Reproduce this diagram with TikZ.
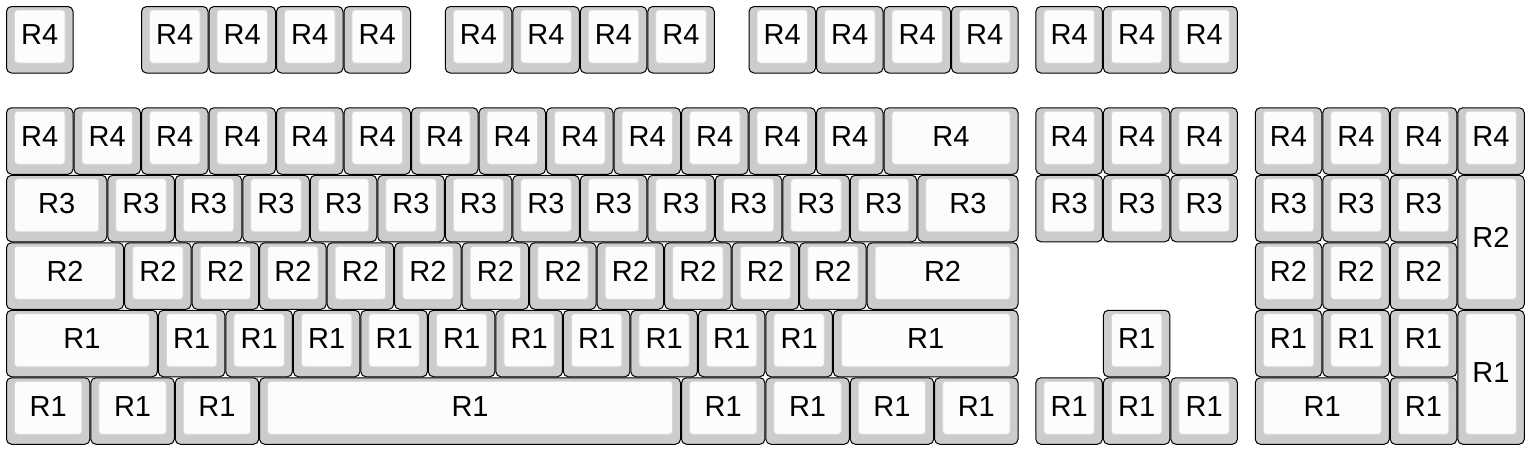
\documentclass[tikz,border=0pt]{standalone}
\usepackage{fontspec}
\setmainfont{Liberation Sans}
\definecolor{capgray}{HTML}{CCCCCC}
\definecolor{captop}{HTML}{FCFCFC}
\definecolor{capline}{HTML}{D6D6D6}
\tikzset{
  keyouter/.style={draw=black, line width=1pt, fill=capgray, rounded corners=5pt},
  keyinner/.style={draw=capline, line width=0.9pt, fill=captop, rounded corners=3pt},
  keylabel/.style={inner sep=0pt, anchor=base, font=\fontsize{29}{32}\selectfont, text=black}
}
\newcommand\kbkey[5]{%
  \pgfmathsetmacro\kxa{6+#1*67.5+0.5}%
  \pgfmathsetmacro\kya{6+#2*67.5+0.5}%
  \pgfmathsetmacro\kxb{6+(#1+#3)*67.5-0.5}%
  \pgfmathsetmacro\kyb{6+(#2+#4)*67.5-0.5}%
  \pgfmathsetmacro\kcx{(\kxa+\kxb)/2}%
  \pgfmathsetmacro\kcy{(\kya+\kyb)/2-5+10.2}%
  \draw[keyouter] (\kxa,\kya) rectangle (\kxb,\kyb);
  \draw[keyinner] (\kxa+8,\kya+3.5) rectangle (\kxb-8,\kyb-10);
  \node[keylabel] at (\kcx,\kcy) {#5};
}
\begin{document}
\begin{tikzpicture}[x=1pt,y=-1pt]
\useasboundingbox (0,0) rectangle (1532,451);
% Function row
\kbkey{0}{0}{1}{1}{R4}
\foreach \i in {2,3,4,5} {\kbkey{\i}{0}{1}{1}{R4}}
\foreach \i in {6.5,7.5,8.5,9.5} {\kbkey{\i}{0}{1}{1}{R4}}
\foreach \i in {11,12,13,14} {\kbkey{\i}{0}{1}{1}{R4}}
\foreach \i in {15.25,16.25,17.25} {\kbkey{\i}{0}{1}{1}{R4}}
% Number row
\foreach \i in {0,...,12} {\kbkey{\i}{1.5}{1}{1}{R4}}
\kbkey{13}{1.5}{2}{1}{R4}
\foreach \i in {15.25,16.25,17.25} {\kbkey{\i}{1.5}{1}{1}{R4}}
\foreach \i in {18.5,19.5,20.5,21.5} {\kbkey{\i}{1.5}{1}{1}{R4}}
% QWERTY row
\kbkey{0}{2.5}{1.5}{1}{R3}
\foreach \i in {1.5,2.5,...,12.5} {\kbkey{\i}{2.5}{1}{1}{R3}}
\kbkey{13.5}{2.5}{1.5}{1}{R3}
\foreach \i in {15.25,16.25,17.25} {\kbkey{\i}{2.5}{1}{1}{R3}}
\foreach \i in {18.5,19.5,20.5} {\kbkey{\i}{2.5}{1}{1}{R3}}
\kbkey{21.5}{2.5}{1}{2}{R2}
% Home row
\kbkey{0}{3.5}{1.75}{1}{R2}
\foreach \i in {1.75,2.75,...,11.75} {\kbkey{\i}{3.5}{1}{1}{R2}}
\kbkey{12.75}{3.5}{2.25}{1}{R2}
\foreach \i in {18.5,19.5,20.5} {\kbkey{\i}{3.5}{1}{1}{R2}}
% Shift row
\kbkey{0}{4.5}{2.25}{1}{R1}
\foreach \i in {2.25,3.25,...,11.25} {\kbkey{\i}{4.5}{1}{1}{R1}}
\kbkey{12.25}{4.5}{2.75}{1}{R1}
\kbkey{16.25}{4.5}{1}{1}{R1}
\foreach \i in {18.5,19.5,20.5} {\kbkey{\i}{4.5}{1}{1}{R1}}
\kbkey{21.5}{4.5}{1}{2}{R1}
% Bottom row
\kbkey{0}{5.5}{1.25}{1}{R1}
\kbkey{1.25}{5.5}{1.25}{1}{R1}
\kbkey{2.5}{5.5}{1.25}{1}{R1}
\kbkey{3.75}{5.5}{6.25}{1}{R1}
\kbkey{10}{5.5}{1.25}{1}{R1}
\kbkey{11.25}{5.5}{1.25}{1}{R1}
\kbkey{12.5}{5.5}{1.25}{1}{R1}
\kbkey{13.75}{5.5}{1.25}{1}{R1}
\foreach \i in {15.25,16.25,17.25} {\kbkey{\i}{5.5}{1}{1}{R1}}
\kbkey{18.5}{5.5}{2}{1}{R1}
\kbkey{20.5}{5.5}{1}{1}{R1}
\end{tikzpicture}
\end{document}
